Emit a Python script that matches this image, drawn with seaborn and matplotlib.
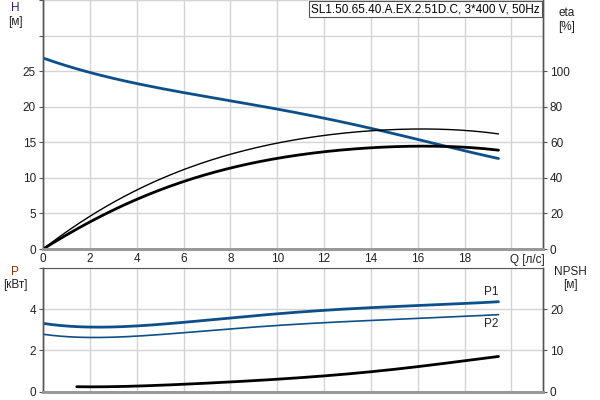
import numpy as np
import pandas as pd
import matplotlib
matplotlib.use("Agg")
import matplotlib.pyplot as plt
import seaborn as sns

sns.set_style("white")
plt.rcParams['font.family'] = ['Liberation Sans', 'DejaVu Sans']
plt.rcParams['font.size'] = 8.5

# ── данные ──
q_h = [0, 2, 4, 6, 8, 10, 12, 14, 16, 18, 19.45]
h_m = [26.85, 24.8, 23.27, 21.96, 20.9, 19.66, 18.26, 17.09, 15.4, 13.76, 12.74]

q_eta = [0, 2, 4, 6, 8, 10, 12, 14, 16, 18, 19.45]
eta_1 = [0, 18.2, 33.2, 44.8, 53.2, 59.4, 63.6, 66.9, 67.4, 66.5, 64.8]
eta_2 = [0, 15.0, 28.1, 38.0, 45.3, 51.0, 54.7, 56.9, 57.9, 57.1, 55.6]

q_p = [0, 2, 4, 6, 8, 10, 12, 14, 16, 18, 19.45]
p1_kw = [3.31, 3.13, 3.18, 3.37, 3.57, 3.76, 3.96, 4.07, 4.17, 4.28, 4.36]
p2_kw = [2.78, 2.63, 2.69, 2.85, 3.03, 3.23, 3.34, 3.44, 3.55, 3.66, 3.73]

q_npsh = [1.44, 4, 6, 8, 10, 12, 14, 16, 18, 19.45]
npsh_m = [1.16, 1.33, 1.75, 2.3, 3.0, 3.8, 4.8, 6.0, 7.5, 8.5]

title_text = "SL1.50.65.40.A.EX.2.51D.C, 3*400 V, 50Hz"
blue = "#0d4f8b"
txt = "#222222"
grid_c = "#d4d4d4"
spine_c = "#555555"
xmax = 21.35
fs = 8.5


def smooth(x, y, n=200):
    # гладкая кривая через точки (полином)
    xs = np.linspace(min(x), max(x), n)
    coef = np.polyfit(x, y, min(5, len(x) - 1))
    return pd.DataFrame({"Q": xs, "v": np.polyval(coef, xs)})


fig = plt.figure(figsize=(6, 4), dpi=100)
ax_top = fig.add_axes([43 / 600, 1 - 249 / 400, 500 / 600, 249 / 400])
ax_bot = fig.add_axes([43 / 600, 1 - 391.5 / 400, 500 / 600, 123.5 / 400])

# ── верхний график: H и eta ──
ax_eta = ax_top.twinx()
sns.lineplot(data=smooth(q_h, h_m), x="Q", y="v", ax=ax_top, color=blue, lw=2, zorder=5)
sns.lineplot(data=smooth(q_eta, eta_1), x="Q", y="v", ax=ax_eta, color="black", lw=1.0)
sns.lineplot(data=smooth(q_eta, eta_2), x="Q", y="v", ax=ax_eta, color="black", lw=2.0)

ax_top.set_xlim(0, xmax)
ax_top.set_ylim(0, 35)
ax_eta.set_ylim(0, 140)
ax_top.set_xticks(range(0, 21, 2))
ax_top.set_xticklabels([str(v) for v in range(0, 19, 2)] + [""])
ax_top.set_yticks(range(0, 36, 5))
ax_top.set_yticklabels([str(v) for v in range(0, 26, 5)] + ["", ""])
ax_eta.set_yticks(range(0, 101, 20))
ax_top.grid(True, color=grid_c, lw=1)
ax_top.set_axisbelow(True)

# ── нижний график: P и NPSH ──
ax_npsh = ax_bot.twinx()
sns.lineplot(data=smooth(q_p, p1_kw), x="Q", y="v", ax=ax_bot, color=blue, lw=2)
sns.lineplot(data=smooth(q_p, p2_kw), x="Q", y="v", ax=ax_bot, color=blue, lw=1.2)
sns.lineplot(data=smooth(q_npsh, npsh_m), x="Q", y="v", ax=ax_npsh, color="black", lw=2)

ax_bot.set_xlim(0, xmax)
ax_bot.set_ylim(0, 6)
ax_npsh.set_ylim(0, 30)
ax_bot.set_xticks(range(0, 21, 2))
ax_bot.set_xticklabels([])
ax_bot.set_yticks([0, 2, 4, 6])
ax_bot.set_yticklabels(["0", "2", "4", ""])
ax_npsh.set_yticks([0, 10, 20])
ax_bot.grid(True, color=grid_c, lw=1)
ax_bot.set_axisbelow(True)

for a in (ax_top, ax_eta, ax_bot, ax_npsh):
    a.set_xlabel("")
    a.set_ylabel("")
    a.tick_params(axis="both", length=3, width=0.8, colors=spine_c, labelcolor=txt, labelsize=fs, pad=2)
    a.tick_params(axis="x", length=0, pad=3)
    a.spines["top"].set_visible(False)
    for s in ("left", "right"):
        a.spines[s].set_color(spine_c)
        a.spines[s].set_linewidth(1)
    a.spines["bottom"].set_color("#999999")
    a.spines["bottom"].set_linewidth(2)
ax_top.spines["top"].set_visible(True)
ax_top.spines["top"].set_color(grid_c)
ax_bot.spines["top"].set_visible(True)
ax_bot.spines["top"].set_color(spine_c)

# ── подписи ──
fig.text(15 / 600, 1 - 8 / 400, "H", ha="center", va="center", color="#3a1a6a", fontsize=fs)
fig.text(15 / 600, 1 - 22 / 400, "[м]", ha="center", va="center", color=txt, fontsize=fs)
fig.text(567 / 600, 1 - 13 / 400, "eta", ha="center", va="center", color=txt, fontsize=fs)
fig.text(567 / 600, 1 - 27 / 400, "[%]", ha="center", va="center", color=txt, fontsize=fs)
fig.text(15 / 600, 1 - 272 / 400, "P", ha="center", va="center", color="#7a3a00", fontsize=fs)
fig.text(15 / 600, 1 - 285 / 400, "[кВт]", ha="center", va="center", color=txt, fontsize=fs)
fig.text(570 / 600, 1 - 272 / 400, "NPSH", ha="center", va="center", color=txt, fontsize=fs)
fig.text(570 / 600, 1 - 285 / 400, "[м]", ha="center", va="center", color=txt, fontsize=fs)
fig.text(527 / 600, 1 - 260 / 400, "Q [л/с]", ha="center", va="center", color=txt, fontsize=fs)
ax_bot.text(19.15, 4.55, "P1", ha="center", va="bottom", color=txt, fontsize=fs)
ax_bot.text(19.15, 3.55, "P2", ha="center", va="top", color=txt, fontsize=fs)
fig.text(540 / 600, 1 - 9 / 400, title_text, ha="right", va="center", color="black", fontsize=fs,
         bbox=dict(boxstyle="square,pad=0.2", fc="white", ec="#555555", lw=0.8))

fig.savefig("out.png", dpi=100)
